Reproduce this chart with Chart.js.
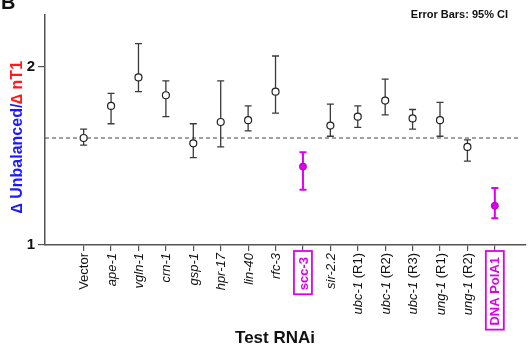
<!DOCTYPE html>
<html lang="en">
<head>
    <meta charset="UTF-8">
    <title>Test RNAi</title>
    <script src="https://cdn.jsdelivr.net/npm/chart.js"></script>
    <style>
        body { margin: 0; background: #fff; }
        canvas { display: block; }
    </style>
</head>
<body>
    <canvas id="chart" width="531" height="346"></canvas>

    <script>
        // data
        const categories = ['Vector', 'ape-1', 'vgln-1', 'crn-1', 'gsp-1', 'hpr-17', 'lin-40', 'rfc-3',
            'scc-3', 'sir-2.2', 'ubc-1 (R1)', 'ubc-1 (R2)', 'ubc-1 (R3)', 'ung-1 (R1)', 'ung-1 (R2)', 'DNA PolA1'];
        const means = [1.60, 1.78, 1.94, 1.84, 1.57, 1.69, 1.70, 1.86,
            1.44, 1.67, 1.72, 1.81, 1.71, 1.70, 1.55, 1.22];
        const ciLow = [1.56, 1.68, 1.86, 1.72, 1.49, 1.55, 1.64, 1.74,
            1.31, 1.61, 1.66, 1.73, 1.65, 1.61, 1.47, 1.15];
        const ciHigh = [1.65, 1.85, 2.13, 1.92, 1.68, 1.92, 1.78, 2.06,
            1.52, 1.79, 1.78, 1.93, 1.76, 1.80, 1.59, 1.32];
        const highlighted = ['scc-3', 'DNA PolA1'];
        const yTicks = [1, 2];
        const controlLevel = 1.6;

        const MAGENTA = '#dd00ee';
        const GREY = '#3a3a3a';

        const normalPts = [], hiPts = [];
        categories.forEach((c, i) => {
            const p = { x: i, y: means[i] };
            if (highlighted.includes(c)) hiPts.push(p); else normalPts.push(p);
        });

        const extras = {
            id: 'extras',
            beforeDraw(chart) {
                const ctx = chart.ctx;
                ctx.save();
                ctx.fillStyle = '#fff';
                ctx.fillRect(0, 0, chart.width, chart.height);
                ctx.restore();
            },
            beforeDatasetsDraw(chart) {
                const ctx = chart.ctx;
                const xs = chart.scales.x, ys = chart.scales.y;
                ctx.save();
                // dashed control line
                const yl = ys.getPixelForValue(controlLevel);
                ctx.strokeStyle = '#444';
                ctx.lineWidth = 1;
                ctx.setLineDash([4, 3]);
                ctx.beginPath();
                ctx.moveTo(chart.chartArea.left, yl);
                ctx.lineTo(xs.getPixelForValue(15.85), yl);
                ctx.stroke();
                ctx.setLineDash([]);
                // error bars
                categories.forEach((c, i) => {
                    const hi = highlighted.includes(c);
                    const x = xs.getPixelForValue(i);
                    const y0 = ys.getPixelForValue(ciLow[i]);
                    const y1 = ys.getPixelForValue(ciHigh[i]);
                    ctx.strokeStyle = hi ? MAGENTA : GREY;
                    ctx.lineWidth = hi ? 2 : 1.3;
                    ctx.beginPath();
                    ctx.moveTo(x, y0); ctx.lineTo(x, y1);
                    ctx.moveTo(x - 3.5, y0); ctx.lineTo(x + 3.5, y0);
                    ctx.moveTo(x - 3.5, y1); ctx.lineTo(x + 3.5, y1);
                    ctx.stroke();
                });
                ctx.restore();
            },
            afterDraw(chart) {
                const ctx = chart.ctx;
                const xs = chart.scales.x;
                ctx.save();
                // x tick labels, rotated
                categories.forEach((c, i) => {
                    const x = xs.getPixelForValue(i);
                    const top = 253;
                    ctx.save();
                    ctx.translate(x, top);
                    ctx.rotate(-Math.PI / 2);
                    ctx.textBaseline = 'middle';
                    if (highlighted.includes(c)) {
                        ctx.font = 'bold 13px "Liberation Sans", Arial, sans-serif';
                        ctx.fillStyle = MAGENTA;
                        ctx.textAlign = 'right';
                        const w = ctx.measureText(c).width;
                        ctx.fillText(c, -4, 1);
                        ctx.strokeStyle = MAGENTA;
                        ctx.lineWidth = 1.8;
                        ctx.strokeRect(-w - 8, -9, w + 10, 18);
                    } else {
                        let parts;
                        if (c === 'Vector') parts = [[c, '']];
                        else {
                            const k = c.indexOf(' (');
                            parts = k < 0 ? [[c, 'italic ']] : [[c.slice(0, k), 'italic '], [c.slice(k), '']];
                        }
                        ctx.fillStyle = '#111';
                        ctx.textAlign = 'left';
                        let total = 0;
                        parts.forEach(p => {
                            ctx.font = p[1] + '13px "Liberation Sans", Arial, sans-serif';
                            total += ctx.measureText(p[0]).width;
                        });
                        let cx = -total;
                        parts.forEach(p => {
                            ctx.font = p[1] + '13px "Liberation Sans", Arial, sans-serif';
                            ctx.fillText(p[0], cx, 1);
                            cx += ctx.measureText(p[0]).width;
                        });
                    }
                    ctx.restore();
                });

                // y axis title in two colours
                ctx.save();
                ctx.translate(18, 213);
                ctx.rotate(-Math.PI / 2);
                ctx.textBaseline = 'middle';
                ctx.textAlign = 'left';
                ctx.font = 'bold 16px "Liberation Sans", Arial, sans-serif';
                const a = '\u2206 Unbalanced/';
                const b = '\u2206 nT1';
                ctx.fillStyle = '#1a1aff';
                ctx.fillText(a, 0, 0);
                ctx.fillStyle = '#ff1a1a';
                ctx.fillText(b, ctx.measureText(a).width, 0);
                ctx.restore();

                // x axis title
                ctx.fillStyle = '#111';
                ctx.font = 'bold 17px "Liberation Sans", Arial, sans-serif';
                ctx.textAlign = 'center';
                ctx.textBaseline = 'middle';
                ctx.fillText('Test RNAi', 275, 338);

                // panel letter and note
                ctx.font = 'bold 20px "Liberation Sans", Arial, sans-serif';
                ctx.textAlign = 'left';
                ctx.textBaseline = 'alphabetic';
                ctx.fillText('B', 1, 9);
                ctx.font = 'bold 11px "Liberation Sans", Arial, sans-serif';
                ctx.textAlign = 'right';
                ctx.textBaseline = 'middle';
                ctx.fillText('Error Bars: 95% CI', 508, 15);
                ctx.restore();
            }
        };

        const ctx = document.getElementById('chart').getContext('2d');
        new Chart(ctx, {
            type: 'scatter',
            data: {
                datasets: [{
                    data: normalPts,
                    pointRadius: 3.5,
                    pointBackgroundColor: '#fff',
                    pointBorderColor: '#222',
                    pointBorderWidth: 1.2
                }, {
                    data: hiPts,
                    pointRadius: 3.5,
                    pointBackgroundColor: MAGENTA,
                    pointBorderColor: '#b000c0',
                    pointBorderWidth: 1
                }]
            },
            options: {
                responsive: false,
                animation: false,
                layout: { padding: { top: 15, right: 1, left: 0, bottom: 0 } },
                plugins: { legend: { display: false }, tooltip: { enabled: false } },
                scales: {
                    x: {
                        type: 'linear',
                        min: -1.41,
                        max: 16.13,
                        afterBuildTicks: s => { s.ticks = categories.map((c, i) => ({ value: i })); },
                        afterFit: s => { s.height = 101; },
                        ticks: { display: true, color: 'rgba(0,0,0,0)', autoSkip: false, maxRotation: 0 },
                        grid: { drawOnChartArea: false, drawTicks: true, tickLength: 6, color: '#555', lineWidth: 1.2 },
                        border: { color: '#555', width: 1.5 }
                    },
                    y: {
                        min: 1,
                        max: 2.29,
                        afterBuildTicks: s => { s.ticks = yTicks.map(v => ({ value: v })); },
                        afterFit: s => { s.width = 45; },
                        ticks: {
                            color: '#111',
                            padding: 3,
                            font: { family: '"Liberation Sans", Arial, sans-serif', size: 15, weight: 'bold' }
                        },
                        grid: { drawOnChartArea: false, drawTicks: true, tickLength: 7, color: '#555', lineWidth: 1.2 },
                        border: { color: '#555', width: 1.5 }
                    }
                }
            },
            plugins: [extras]
        });
    </script>
</body>
</html>
